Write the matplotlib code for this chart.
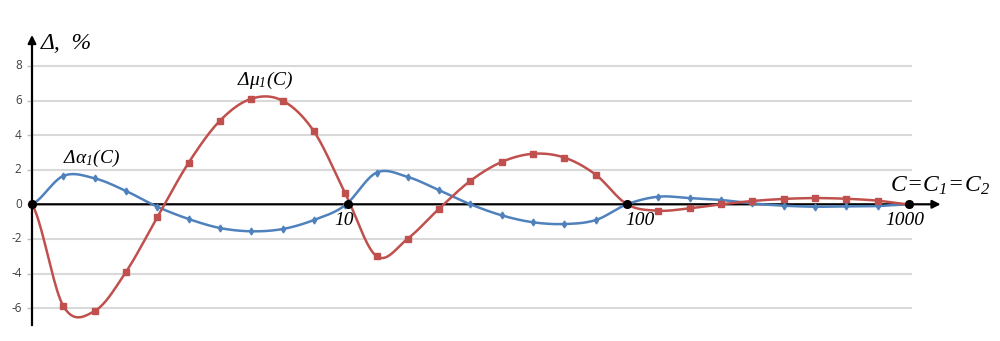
import numpy as np
import matplotlib.pyplot as plt

plt.rcParams['mathtext.fontset'] = 'custom'
plt.rcParams['mathtext.it'] = 'Liberation Serif:italic'
plt.rcParams['mathtext.rm'] = 'Liberation Serif:italic'
plt.rcParams['mathtext.default'] = 'it'

# точки по оси C (категории, как в Excel: 1..10, 10..100, 100..1000)
idx = np.arange(29)

# отклонения, %
d_mu = [0, -5.88, -6.17, -3.91, -0.75, 2.40, 4.83, 6.10, 5.99, 4.22,
        0.64, -3.00, -1.98, -0.25, 1.36, 2.45, 2.92, 2.70, 1.71,
        0, -0.37, -0.23, 0.0, 0.19, 0.31, 0.36, 0.32, 0.21, 0]
d_alpha = [0, 1.64, 1.50, 0.77, -0.14, -0.85, -1.37, -1.56, -1.43, -0.91,
           -0.05, 1.83, 1.58, 0.81, 0.0, -0.64, -1.04, -1.14, -0.91,
           0, 0.44, 0.36, 0.25, 0.05, -0.08, -0.14, -0.12, -0.10, 0]

y_ticks = [-6, -4, -2, 0, 2, 4, 6, 8]
dec_labels = ['10', '100', '1000']
dec_pos = [0, 10.1, 19, 28]
dec_lab_pos = [9.96, 19.4, 27.87]


def smooth(y, n=20):
    # сглаживание Катмулла-Рома, как "сглаженная линия" в Excel
    y = np.asarray(y, float)
    p = np.concatenate([[y[0]], y, [y[-1]]])
    xs, ys = [], []
    t = np.linspace(0, 1, n, endpoint=False)
    for i in range(len(y) - 1):
        p0, p1, p2, p3 = p[i], p[i + 1], p[i + 2], p[i + 3]
        v = 0.5 * (2 * p1 + (p2 - p0) * t + (2 * p0 - 5 * p1 + 4 * p2 - p3) * t ** 2
                   + (-p0 + 3 * p1 - 3 * p2 + p3) * t ** 3)
        xs.append(i + t)
        ys.append(v)
    xs.append([len(y) - 1])
    ys.append([y[-1]])
    return np.concatenate(xs), np.concatenate(ys)


red = '#C0504D'
blue = '#4F81BD'

fig = plt.figure(figsize=(10, 3.41), dpi=100)
ax = fig.add_axes([0, 0, 1, 1])
ax.set_xlim(-32 / 31.32, (1000 - 32) / 31.32)
ax.set_ylim((204.3 - 341) / 17.3, 204.3 / 17.3)
ax.axis('off')

# сетка
grid = [v for v in y_ticks if v != 0]
ax.hlines(grid, 0, 28.1, color='#D9D9D9', lw=1.5, zorder=1)
ax.hlines(y_ticks, -0.16, 0, color='#BFBFBF', lw=1, zorder=1)
for v in y_ticks:
    ax.text(-0.33, v, str(v), ha='right', va='center', fontsize=8.5,
            color='#404040', family='Open Sans')

# оси со стрелками
ax.annotate('', xy=(29.1, 0), xytext=(0, 0),
            arrowprops=dict(arrowstyle='-|>', color='black', lw=1.6,
                            mutation_scale=12), zorder=2)
ax.annotate('', xy=(0, 9.95), xytext=(0, -7.15),
            arrowprops=dict(arrowstyle='-|>', color='black', lw=1.6,
                            mutation_scale=12), zorder=2)

# кривые
xm, ym = smooth(d_mu)
xa, ya = smooth(d_alpha)
ax.plot(xa, ya, color=blue, lw=1.8, zorder=3)
ax.plot(idx, d_alpha, 'd', color=blue, ms=3.5, zorder=4)
ax.plot(xm, ym, color=red, lw=1.8, zorder=3)
ax.plot(idx, d_mu, 's', color=red, ms=4.2, zorder=4)

ax.plot(dec_pos, [0] * len(dec_pos), 'o', color='black', ms=5.5, zorder=5)

for lab, x in zip(dec_labels, dec_lab_pos):
    ax.text(x, -0.45, lab, ha='center', va='top',
            fontsize=14, family='Liberation Serif', style='italic')

ax.text(0.28, 9.0, 'Δ,  %', fontsize=17, family='Liberation Serif', style='italic')
ax.text(0.98, 2.4, r'$Δα_1(C)$', fontsize=14)
ax.text(6.55, 6.9, r'$Δμ_1(C)$', fontsize=14)
ax.text(27.4, 0.7, r'$C\!=\!C_1\!=\!C_2$', fontsize=17)

fig.savefig('out.png', dpi=100)
